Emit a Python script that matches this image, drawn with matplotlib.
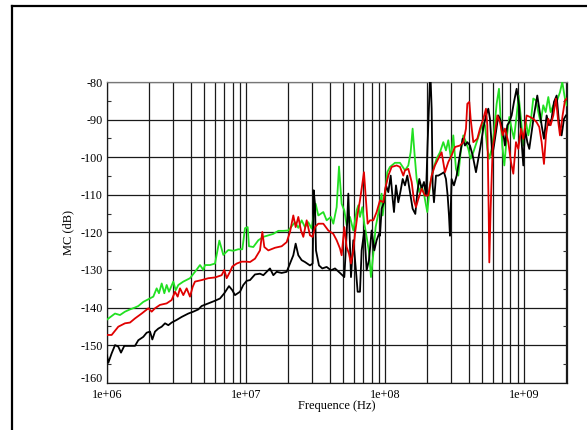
import matplotlib
matplotlib.use("Agg")
import matplotlib.pyplot as plt
from matplotlib.lines import Line2D
from matplotlib.ticker import FixedLocator, NullFormatter
from matplotlib.transforms import ScaledTranslation

# ---------------- data (frequency in MHz, level in dB) ----------------
green_f = [1.0, 1.142, 1.24, 1.347, 1.464, 1.59, 1.68, 1.825, 1.984, 2.154,
           2.277, 2.366, 2.474, 2.585, 2.687, 2.793, 3.0, 3.119, 3.261, 3.541,
           3.955, 4.297, 4.668, 4.932, 5.07, 5.508, 5.984, 6.43, 6.87, 7.464,
           8.108, 8.807, 9.41, 9.836, 10.28, 10.51, 11.29, 12.27, 13.33, 14.48,
           15.73, 17.09, 18.56, 20.16, 21.31, 22.52, 23.8, 25.15, 26.58, 28.07,
           29.68, 30.51, 31.71, 33.14, 36.0, 38.05, 40.88, 42.49, 44.91, 46.69,
           48.78, 50.99, 53.0, 56.01, 59.18, 62.54, 64.29, 66.09, 68.69, 71.01,
           73.8, 76.71, 79.3, 82.43, 85.68, 89.54, 94.62, 96.21, 100.0, 103.9,
           108.6, 118.0, 128.2, 139.3, 147.2, 153.0, 158.1, 163.5, 169.0, 176.6,
           183.6, 190.8, 201.6, 210.8, 222.7, 235.3, 248.7, 262.8, 274.7, 285.5,
           298.4, 310.1, 324.2, 337.0, 350.3, 366.1, 382.6, 397.7, 413.4, 432.1,
           456.6, 482.6, 504.3, 524.2, 544.9, 563.2, 585.4, 608.5, 636.0, 661.0,
           679.4, 698.4, 722.0, 750.5, 784.4, 815.4, 847.5, 885.8, 915.6, 951.7,
           989.2, 1034, 1075, 1117, 1167, 1220, 1268, 1318, 1377, 1432,
           1497, 1555, 1626, 1718, 1816, 1887, 1972, 2028]
green_db = [-143.2, -141.6, -142.0, -141.1, -140.5, -140.0, -139.6, -138.5, -137.8, -137.1,
            -134.9, -136.2, -133.6, -136.2, -134.0, -135.8, -133.1, -135.4, -134.0, -133.1,
            -132.2, -130.5, -128.7, -130.0, -128.7, -128.7, -128.3, -122.2, -126.0, -124.7,
            -124.9, -124.5, -124.5, -118.9, -118.6, -123.7, -123.9, -122.1, -121.2, -120.8,
            -120.4, -119.6, -119.6, -119.5, -118.4, -117.3, -118.8, -116.8, -118.6, -117.3,
            -119.0, -115.9, -112.4, -115.5, -114.6, -116.8, -115.9, -117.7, -113.3, -102.5,
            -112.4, -114.2, -118.1, -115.9, -119.5, -114.2, -112.8, -115.9, -113.3, -117.7,
            -121.2, -125.2, -131.9, -125.7, -118.6, -115.0, -109.7, -115.5, -110.2, -104.0,
            -102.6, -101.5, -101.5, -103.5, -102.2, -98.7, -92.4, -99.5, -105.8, -109.3,
            -107.5, -109.8, -114.6, -107.5, -103.1, -100.4, -98.7, -96.0, -98.2, -95.5,
            -100.4, -94.2, -103.1, -104.9, -98.7, -94.2, -96.0, -97.8, -100.4, -98.7,
            -96.0, -93.3, -90.7, -91.5, -97.8, -100.4, -97.8, -93.3, -85.8, -81.8,
            -89.8, -96.9, -102.2, -95.1, -89.3, -92.4, -95.1, -88.9, -83.6, -89.8,
            -96.9, -90.7, -94.2, -90.7, -84.4, -84.9, -88.0, -90.7, -86.2, -88.0,
            -84.0, -88.0, -86.2, -85.3, -82.7, -80.0, -84.4, -86.2]

red_f = [1.0, 1.08, 1.206, 1.347, 1.464, 1.59, 1.776, 1.984, 2.096, 2.215,
         2.406, 2.687, 2.919, 3.085, 3.224, 3.351, 3.541, 3.742, 3.955, 4.134,
         4.297, 4.799, 5.358, 5.984, 6.683, 6.984, 7.26, 7.67, 7.973, 8.568,
         9.308, 10.11, 10.69, 11.61, 12.61, 13.11, 13.55, 14.48, 16.17, 18.06,
         19.62, 20.73, 21.9, 22.77, 23.8, 24.87, 25.85, 27.33, 28.86, 30.18,
         31.36, 33.14, 36.0, 39.11, 42.49, 44.91, 47.46, 48.78, 50.99, 53.0,
         55.08, 56.94, 59.18, 60.84, 63.59, 66.09, 68.69, 70.61, 72.99, 75.04,
         78.0, 82.43, 87.1, 92.05, 97.28, 101.7, 105.7, 111.7, 121.3, 128.2,
         135.5, 139.3, 147.2, 155.6, 161.7, 167.1, 173.8, 183.6, 194.0, 205.0,
         216.7, 228.9, 241.9, 255.6, 270.1, 285.5, 301.7, 318.8, 346.4, 366.1,
         382.6, 391.2, 404.4, 413.4, 432.1, 461.7, 482.6, 509.9, 533.0, 544.9,
         557.0, 563.2, 575.8, 595.2, 618.7, 643.1, 671.9, 702.3, 730.0, 771.5,
         806.4, 838.2, 876.0, 910.6, 951.7, 989.2, 1045, 1105, 1167, 1233,
         1289, 1340, 1393, 1440, 1497, 1555, 1626, 1699, 1766, 1816,
         1897, 1972, 2028]
red_db = [-147.3, -147.3, -145.1, -144.2, -144.0, -142.9, -141.6, -140.2, -141.1, -140.2,
          -139.3, -138.9, -138.0, -135.8, -137.1, -134.9, -136.7, -134.9, -137.1, -134.5,
          -133.1, -132.7, -132.2, -132.0, -131.4, -130.0, -132.2, -130.5, -129.1, -128.3,
          -127.8, -127.8, -127.9, -127.0, -124.8, -119.9, -123.9, -124.8, -124.1, -123.7,
          -122.6, -119.9, -115.5, -118.6, -115.9, -119.5, -121.2, -116.8, -120.8, -121.2,
          -118.6, -117.7, -117.7, -119.5, -120.4, -122.1, -124.3, -126.1, -118.6, -123.9,
          -125.7, -128.3, -124.8, -120.4, -115.0, -111.5, -107.1, -104.0, -111.5, -117.7,
          -116.8, -116.8, -114.6, -111.5, -112.0, -107.5, -104.9, -102.6, -102.2, -102.6,
          -104.9, -103.5, -103.1, -106.6, -111.5, -113.3, -111.1, -108.4, -110.2, -110.2,
          -104.9, -102.2, -100.4, -98.7, -104.0, -101.3, -99.5, -97.3, -96.9, -96.0,
          -92.4, -85.8, -85.3, -89.8, -96.0, -95.1, -92.4, -89.8, -87.1, -91.5,
          -113.7, -128.0, -113.7, -97.8, -93.3, -88.9, -90.7, -94.2, -92.4, -96.0,
          -101.3, -104.4, -96.0, -97.8, -92.4, -95.1, -88.9, -89.3, -89.8, -90.7,
          -92.0, -96.0, -101.8, -94.2, -89.8, -91.5, -88.9, -84.4, -90.7, -94.2,
          -88.9, -84.9, -84.4]

black_f = [1.0, 1.022, 1.08, 1.142, 1.206, 1.261, 1.332, 1.424, 1.59, 1.68,
           1.825, 1.929, 2.039, 2.119, 2.215, 2.341, 2.474, 2.615, 2.762, 2.919,
           3.171, 3.445, 3.847, 4.18, 4.541, 4.799, 5.358, 5.984, 6.501, 6.984,
           7.545, 7.973, 8.334, 9.055, 9.568, 10.11, 10.69, 11.61, 12.61, 13.33,
           14.08, 14.88, 15.73, 16.62, 18.06, 19.62, 20.73, 21.9, 22.77, 23.8,
           25.15, 26.58, 28.86, 30.18, 30.68, 31.36, 31.89, 33.51, 35.41, 38.05,
           40.88, 43.69, 47.46, 50.99, 53.0, 54.49, 56.94, 59.18, 61.51, 63.59,
           66.09, 67.94, 71.01, 73.8, 76.71, 80.19, 83.81, 87.1, 90.53, 92.05,
           94.62, 98.35, 101.7, 105.7, 109.9, 113.6, 116.1, 120.0, 124.7, 129.6,
           134.1, 139.3, 144.8, 151.3, 158.1, 165.3, 170.9, 176.6, 183.6, 190.8,
           197.2, 202.8, 208.5, 211.9, 216.7, 220.3, 225.2, 232.8, 241.9, 255.6,
           265.7, 274.7, 282.4, 288.7, 293.5, 301.7, 313.6, 327.8, 342.6, 362.1,
           376.4, 391.2, 408.8, 427.3, 451.6, 469.4, 487.9, 509.9, 533.0, 554.0,
           569.4, 591.9, 608.5, 629.0, 653.7, 671.9, 702.3, 730.0, 758.8, 784.4,
           815.4, 847.5, 885.8, 920.7, 962.3, 989.2, 1017, 1057, 1092, 1136,
           1180, 1247, 1289, 1340, 1393, 1456, 1513, 1581, 1644, 1718,
           1786, 1866, 1941, 2005]
black_db = [-152.7, -154.7, -152.2, -150.0, -150.4, -152.0, -150.2, -150.2, -150.2, -148.7,
            -147.8, -146.7, -146.4, -148.5, -146.4, -145.6, -145.1, -144.2, -144.7, -144.0,
            -143.3, -142.5, -141.6, -141.1, -140.5, -139.6, -138.9, -138.2, -137.6, -136.2,
            -134.3, -135.4, -136.7, -135.8, -134.0, -132.9, -132.7, -131.2, -131.0, -131.4,
            -130.5, -129.6, -131.4, -130.5, -130.8, -130.5, -128.3, -126.1, -123.0, -126.1,
            -127.4, -127.9, -128.8, -128.3, -108.8, -112.4, -124.8, -128.8, -129.6, -129.2,
            -130.1, -129.6, -130.8, -131.9, -120.4, -109.7, -131.9, -122.1, -129.2, -135.8,
            -135.8, -124.8, -119.5, -130.1, -127.4, -119.5, -124.8, -122.1, -120.4, -120.9,
            -113.7, -112.0, -107.5, -109.3, -104.9, -111.1, -114.6, -107.5, -112.0, -108.9,
            -105.8, -107.5, -104.9, -109.3, -113.7, -115.1, -109.3, -105.8, -108.4, -106.6,
            -110.2, -96.0, -83.6, -77.0, -87.1, -107.5, -112.0, -104.9, -104.9, -104.4,
            -104.0, -105.8, -110.2, -115.5, -120.9, -105.8, -107.5, -104.9, -100.4, -95.1,
            -96.9, -96.0, -96.9, -99.5, -104.0, -100.4, -96.9, -92.4, -88.9, -87.1,
            -89.8, -99.5, -96.9, -93.3, -88.9, -89.8, -92.4, -96.9, -91.5, -90.7,
            -88.9, -85.3, -81.8, -86.2, -96.0, -102.2, -92.4, -96.0, -97.8, -93.3,
            -88.9, -83.6, -87.1, -91.5, -95.1, -88.9, -91.5, -89.8, -85.3, -83.6,
            -90.7, -94.2, -89.8, -88.9]

assert len(green_f) == len(green_db), (len(green_f), len(green_db))
assert len(red_f) == len(red_db), (len(red_f), len(red_db))
assert len(black_f) == len(black_db), (len(black_f), len(black_db))

x_tick_values = [1e6, 1e7, 1e8, 1e9]
x_tick_labels = ["1e+06", "1e+07", "1e+08", "1e+09"]
y_tick_values = [-160, -150, -140, -130, -120, -110, -100, -90, -80]
y_tick_labels = ["-160", "-150", "-140", "-130", "-120", "-110", "-100", "-90", "-80"]
x_label = "Frequence (Hz)"
y_label = "MC (dB)"

# ---------------- figure ----------------
SERIF = ["Liberation Serif", "DejaVu Serif"]
plt.rcParams["font.family"] = SERIF

W, H = 587, 430
fig = plt.figure(figsize=(W / 100, H / 100), dpi=100)
fig.patch.set_facecolor("white")

left, right, top, bottom = 107, 566.7, 82, 382.7
ax = fig.add_axes([left / W, 1 - bottom / H, (right - left) / W, (bottom - top) / H])

ax.set_xscale("log")
ax.set_xlim(1e6, 2.03e9)
ax.set_ylim(-160, -80)

mhz = 1e6
ax.plot([f * mhz for f in green_f], green_db, color="#22e022", lw=1.3, zorder=3)
ax.plot([f * mhz for f in black_f], black_db, color="black", lw=1.3, zorder=4)
ax.plot([f * mhz for f in red_f], red_db, color="#e00000", lw=1.3, zorder=5)

# grids
minor_x = []
for dec in [1e6, 1e7, 1e8, 1e9]:
    for k in range(2, 10):
        if dec * k <= 2.03e9:
            minor_x.append(dec * k)
ax.xaxis.set_major_locator(FixedLocator(x_tick_values))
ax.xaxis.set_minor_locator(FixedLocator(minor_x))
ax.xaxis.set_minor_formatter(NullFormatter())
ax.set_xticklabels(x_tick_labels)
ax.set_yticks(y_tick_values)
ax.set_yticklabels(y_tick_labels)
ax.yaxis.set_minor_locator(FixedLocator(list(range(-155, -80, 10))))

ax.grid(which="both", axis="x", color="#1a1a1a", lw=0.9, zorder=1)
ax.grid(which="major", axis="y", color="#1a1a1a", lw=0.9, zorder=1)

ax.tick_params(axis="x", which="both", length=0, pad=4.2, labelsize=8.7)
ax.tick_params(axis="y", which="major", length=0, pad=3.2, labelsize=8.7)
ax.tick_params(axis="y", which="minor", direction="in", length=3,
               left=True, right=True, width=0.8, color="#333333")

# lift the lowest y label slightly so it does not collide with "1e+06"
lowest = ax.get_yticklabels()[0]
lowest.set_transform(lowest.get_transform() + ScaledTranslation(0, 3.5 / 72, fig.dpi_scale_trans))

for s in ax.spines.values():
    s.set_color("#1a1a1a")
    s.set_linewidth(0.9)
ax.spines["top"].set_color("#777777")

ax.set_xlabel(x_label, fontsize=9)
ax.xaxis.set_label_coords(0.5, -0.076)
ax.xaxis.label.set_verticalalignment("center")
ax.set_ylabel(y_label, fontsize=9)
ax.yaxis.set_label_coords(-0.085, 0.5)
ax.yaxis.label.set_verticalalignment("center")
ax.yaxis.label.set_horizontalalignment("center")

# outer frame (top and left edges)
bx, by = 12 / W, 1 - 6 / H
fig.add_artist(Line2D([bx, 1.0], [by, by], transform=fig.transFigure, color="black", lw=1.6))
fig.add_artist(Line2D([bx, bx], [0.0, by], transform=fig.transFigure, color="black", lw=1.6))

fig.savefig("out.png", dpi=100, facecolor="white")
